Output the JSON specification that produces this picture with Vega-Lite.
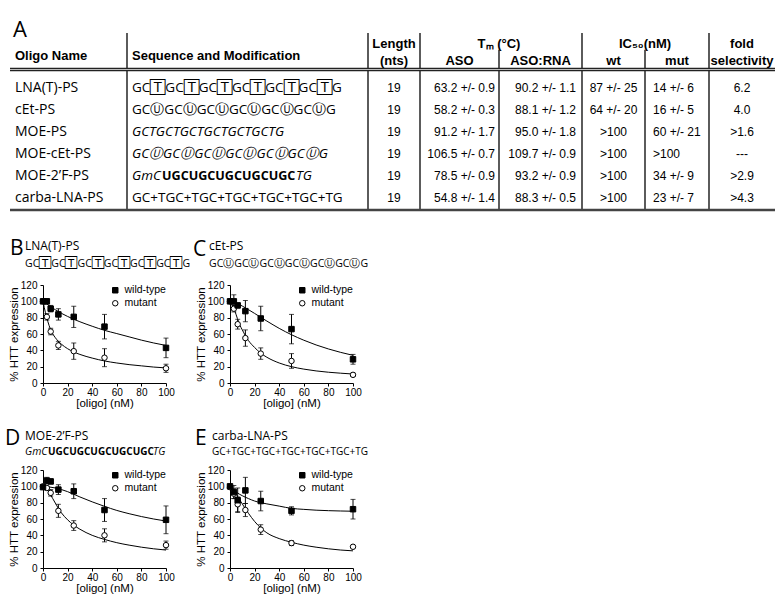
{
  "$schema": "https://vega.github.io/schema/vega-lite/v6.json",
  "background": "white",
  "padding": {"left": 5, "top": 0, "right": 0, "bottom": 0},
  "bounds": "flush",
  "spacing": 73,
  "resolve": {"scale": {"shape": "independent", "fill": "independent", "stroke": "independent"}},
  "datasets": {
    "panels": [{"panel": "A"}, {"panel": "B"}, {"panel": "C"}, {"panel": "D"}, {"panel": "E"}],
    "headers": [
      {"label": "Oligo Name", "col": 0, "lvl": -1.5},
      {"label": "Sequence and Modification", "col": 1, "lvl": -1.5},
      {"label": "Length", "col": 2.5, "lvl": -2},
      {"label": "(nts)", "col": 2.5, "lvl": -1},
      {"label": "Tₘ (°C)", "col": 4, "lvl": -2},
      {"label": "ASO", "col": 3.5, "lvl": -1},
      {"label": "ASO:RNA", "col": 4.5, "lvl": -1},
      {"label": "IC₅₀(nM)", "col": 6, "lvl": -2},
      {"label": "wt", "col": 5.5, "lvl": -1},
      {"label": "mut", "col": 6.5, "lvl": -1},
      {"label": "fold", "col": 7.5, "lvl": -2},
      {"label": "selectivity", "col": 7.5, "lvl": -1}
    ],
    "oligos": [
      {"row": 1, "oligo": "LNA(T)-PS", "seq": "GC🅃GC🅃GC🅃GC🅃GC🅃GC🅃G", "len": 19, "tm_aso": "63.2 +/- 0.9", "tm_rna": "90.2 +/- 1.1", "ic50_wt": "87 +/- 25", "ic50_mut": "14 +/- 6", "fold": "6.2"},
      {"row": 2, "oligo": "cEt-PS", "seq": "GCⓊGCⓊGCⓊGCⓊGCⓊGCⓊG", "len": 19, "tm_aso": "58.2 +/- 0.3", "tm_rna": "88.1 +/- 1.2", "ic50_wt": "64 +/- 20", "ic50_mut": "16 +/- 5", "fold": "4.0"},
      {"row": 3, "oligo": "MOE-PS", "seq": "GCTGCTGCTGCTGCTGCTG", "len": 19, "tm_aso": "91.2 +/- 1.7", "tm_rna": "95.0 +/- 1.8", "ic50_wt": ">100", "ic50_mut": "60 +/- 21", "fold": ">1.6"},
      {"row": 4, "oligo": "MOE-cEt-PS", "seq": "GCⓊGCⓊGCⓊGCⓊGCⓊGCⓊG", "len": 19, "tm_aso": "106.5 +/- 0.7", "tm_rna": "109.7 +/- 0.9", "ic50_wt": ">100", "ic50_mut": ">100", "fold": "---"},
      {"row": 5, "oligo": "MOE-2’F-PS", "seq": "GmCUGCUGCUGCUGCTG", "wing5": "GmC", "gap": "UGCUGCUGCUGCUGC", "wing3": "TG", "len": 19, "tm_aso": "78.5 +/- 0.9", "tm_rna": "93.2 +/- 0.9", "ic50_wt": ">100", "ic50_mut": "34 +/- 9", "fold": ">2.9"},
      {"row": 6, "oligo": "carba-LNA-PS", "seq": "GC+TGC+TGC+TGC+TGC+TGC+TG", "len": 19, "tm_aso": "54.8 +/- 1.4", "tm_rna": "88.3 +/- 0.5", "ic50_wt": ">100", "ic50_mut": "23 +/- 7", "fold": ">4.3"}
    ],
    "pts": [
      {"oligo": "LNA(T)-PS", "cond": "mutant", "conc": 0, "pct": 100, "sd": 2},
      {"oligo": "LNA(T)-PS", "cond": "mutant", "conc": 3.125, "pct": 81, "sd": 4},
      {"oligo": "LNA(T)-PS", "cond": "mutant", "conc": 6.25, "pct": 63, "sd": 4},
      {"oligo": "LNA(T)-PS", "cond": "mutant", "conc": 12.5, "pct": 46, "sd": 5},
      {"oligo": "LNA(T)-PS", "cond": "mutant", "conc": 25, "pct": 39, "sd": 10},
      {"oligo": "LNA(T)-PS", "cond": "mutant", "conc": 50, "pct": 31, "sd": 11},
      {"oligo": "LNA(T)-PS", "cond": "mutant", "conc": 100, "pct": 18, "sd": 5},
      {"oligo": "LNA(T)-PS", "cond": "wild-type", "conc": 0, "pct": 100, "sd": 2},
      {"oligo": "LNA(T)-PS", "cond": "wild-type", "conc": 3.125, "pct": 100, "sd": 3},
      {"oligo": "LNA(T)-PS", "cond": "wild-type", "conc": 6.25, "pct": 91, "sd": 4},
      {"oligo": "LNA(T)-PS", "cond": "wild-type", "conc": 12.5, "pct": 84, "sd": 7},
      {"oligo": "LNA(T)-PS", "cond": "wild-type", "conc": 25, "pct": 81, "sd": 13},
      {"oligo": "LNA(T)-PS", "cond": "wild-type", "conc": 50, "pct": 69, "sd": 15},
      {"oligo": "LNA(T)-PS", "cond": "wild-type", "conc": 100, "pct": 43, "sd": 12},
      {"oligo": "cEt-PS", "cond": "mutant", "conc": 0, "pct": 100, "sd": 2},
      {"oligo": "cEt-PS", "cond": "mutant", "conc": 3.125, "pct": 91, "sd": 4},
      {"oligo": "cEt-PS", "cond": "mutant", "conc": 6.25, "pct": 72, "sd": 6},
      {"oligo": "cEt-PS", "cond": "mutant", "conc": 12.5, "pct": 55, "sd": 10},
      {"oligo": "cEt-PS", "cond": "mutant", "conc": 25, "pct": 36, "sd": 7},
      {"oligo": "cEt-PS", "cond": "mutant", "conc": 50, "pct": 27, "sd": 9},
      {"oligo": "cEt-PS", "cond": "mutant", "conc": 100, "pct": 10, "sd": 2},
      {"oligo": "cEt-PS", "cond": "wild-type", "conc": 0, "pct": 100, "sd": 2},
      {"oligo": "cEt-PS", "cond": "wild-type", "conc": 3.125, "pct": 100, "sd": 8},
      {"oligo": "cEt-PS", "cond": "wild-type", "conc": 6.25, "pct": 95, "sd": 3},
      {"oligo": "cEt-PS", "cond": "wild-type", "conc": 12.5, "pct": 88, "sd": 13},
      {"oligo": "cEt-PS", "cond": "wild-type", "conc": 25, "pct": 79, "sd": 15},
      {"oligo": "cEt-PS", "cond": "wild-type", "conc": 50, "pct": 66, "sd": 18},
      {"oligo": "cEt-PS", "cond": "wild-type", "conc": 100, "pct": 29, "sd": 6},
      {"oligo": "MOE-2’F-PS", "cond": "mutant", "conc": 0, "pct": 100, "sd": 2},
      {"oligo": "MOE-2’F-PS", "cond": "mutant", "conc": 3.125, "pct": 98, "sd": 2},
      {"oligo": "MOE-2’F-PS", "cond": "mutant", "conc": 6.25, "pct": 92, "sd": 4},
      {"oligo": "MOE-2’F-PS", "cond": "mutant", "conc": 12.5, "pct": 70, "sd": 8},
      {"oligo": "MOE-2’F-PS", "cond": "mutant", "conc": 25, "pct": 52, "sd": 6},
      {"oligo": "MOE-2’F-PS", "cond": "mutant", "conc": 50, "pct": 40, "sd": 8},
      {"oligo": "MOE-2’F-PS", "cond": "mutant", "conc": 100, "pct": 28, "sd": 5},
      {"oligo": "MOE-2’F-PS", "cond": "wild-type", "conc": 0, "pct": 99, "sd": 2},
      {"oligo": "MOE-2’F-PS", "cond": "wild-type", "conc": 3.125, "pct": 107, "sd": 4},
      {"oligo": "MOE-2’F-PS", "cond": "wild-type", "conc": 6.25, "pct": 106, "sd": 3},
      {"oligo": "MOE-2’F-PS", "cond": "wild-type", "conc": 12.5, "pct": 96, "sd": 6},
      {"oligo": "MOE-2’F-PS", "cond": "wild-type", "conc": 25, "pct": 94, "sd": 9},
      {"oligo": "MOE-2’F-PS", "cond": "wild-type", "conc": 50, "pct": 71, "sd": 14},
      {"oligo": "MOE-2’F-PS", "cond": "wild-type", "conc": 100, "pct": 59, "sd": 17},
      {"oligo": "carba-LNA-PS", "cond": "mutant", "conc": 0, "pct": 99, "sd": 2},
      {"oligo": "carba-LNA-PS", "cond": "mutant", "conc": 3.125, "pct": 91, "sd": 6},
      {"oligo": "carba-LNA-PS", "cond": "mutant", "conc": 6.25, "pct": 78, "sd": 9},
      {"oligo": "carba-LNA-PS", "cond": "mutant", "conc": 12.5, "pct": 71, "sd": 8},
      {"oligo": "carba-LNA-PS", "cond": "mutant", "conc": 25, "pct": 47, "sd": 6},
      {"oligo": "carba-LNA-PS", "cond": "mutant", "conc": 50, "pct": 30.5, "sd": 3},
      {"oligo": "carba-LNA-PS", "cond": "mutant", "conc": 100, "pct": 26, "sd": 1},
      {"oligo": "carba-LNA-PS", "cond": "wild-type", "conc": 0, "pct": 100, "sd": 2},
      {"oligo": "carba-LNA-PS", "cond": "wild-type", "conc": 3.125, "pct": 93, "sd": 8},
      {"oligo": "carba-LNA-PS", "cond": "wild-type", "conc": 6.25, "pct": 83, "sd": 15},
      {"oligo": "carba-LNA-PS", "cond": "wild-type", "conc": 12.5, "pct": 95, "sd": 16},
      {"oligo": "carba-LNA-PS", "cond": "wild-type", "conc": 25, "pct": 82, "sd": 12},
      {"oligo": "carba-LNA-PS", "cond": "wild-type", "conc": 50, "pct": 70, "sd": 5},
      {"oligo": "carba-LNA-PS", "cond": "wild-type", "conc": 100, "pct": 72, "sd": 12}
    ],
    "fits": [
      {"oligo": "LNA(T)-PS", "cond": "wild-type", "conc": 0, "pct": 100},
      {"oligo": "LNA(T)-PS", "cond": "wild-type", "conc": 5, "pct": 94.6},
      {"oligo": "LNA(T)-PS", "cond": "wild-type", "conc": 10, "pct": 89.7},
      {"oligo": "LNA(T)-PS", "cond": "wild-type", "conc": 15, "pct": 85.3},
      {"oligo": "LNA(T)-PS", "cond": "wild-type", "conc": 20, "pct": 81.5},
      {"oligo": "LNA(T)-PS", "cond": "wild-type", "conc": 30, "pct": 75},
      {"oligo": "LNA(T)-PS", "cond": "wild-type", "conc": 40, "pct": 69.5},
      {"oligo": "LNA(T)-PS", "cond": "wild-type", "conc": 50, "pct": 64.5},
      {"oligo": "LNA(T)-PS", "cond": "wild-type", "conc": 60, "pct": 60.5},
      {"oligo": "LNA(T)-PS", "cond": "wild-type", "conc": 70, "pct": 56.5},
      {"oligo": "LNA(T)-PS", "cond": "wild-type", "conc": 80, "pct": 52.5},
      {"oligo": "LNA(T)-PS", "cond": "wild-type", "conc": 90, "pct": 49},
      {"oligo": "LNA(T)-PS", "cond": "wild-type", "conc": 100, "pct": 46},
      {"oligo": "LNA(T)-PS", "cond": "mutant", "conc": 0, "pct": 100},
      {"oligo": "LNA(T)-PS", "cond": "mutant", "conc": 2, "pct": 86},
      {"oligo": "LNA(T)-PS", "cond": "mutant", "conc": 4, "pct": 75},
      {"oligo": "LNA(T)-PS", "cond": "mutant", "conc": 6, "pct": 66},
      {"oligo": "LNA(T)-PS", "cond": "mutant", "conc": 8, "pct": 60},
      {"oligo": "LNA(T)-PS", "cond": "mutant", "conc": 10, "pct": 55.5},
      {"oligo": "LNA(T)-PS", "cond": "mutant", "conc": 12.5, "pct": 51},
      {"oligo": "LNA(T)-PS", "cond": "mutant", "conc": 15, "pct": 47.5},
      {"oligo": "LNA(T)-PS", "cond": "mutant", "conc": 20, "pct": 42},
      {"oligo": "LNA(T)-PS", "cond": "mutant", "conc": 25, "pct": 38},
      {"oligo": "LNA(T)-PS", "cond": "mutant", "conc": 30, "pct": 35},
      {"oligo": "LNA(T)-PS", "cond": "mutant", "conc": 40, "pct": 30.5},
      {"oligo": "LNA(T)-PS", "cond": "mutant", "conc": 50, "pct": 27},
      {"oligo": "LNA(T)-PS", "cond": "mutant", "conc": 60, "pct": 24.5},
      {"oligo": "LNA(T)-PS", "cond": "mutant", "conc": 70, "pct": 22.5},
      {"oligo": "LNA(T)-PS", "cond": "mutant", "conc": 80, "pct": 21},
      {"oligo": "LNA(T)-PS", "cond": "mutant", "conc": 90, "pct": 19.5},
      {"oligo": "LNA(T)-PS", "cond": "mutant", "conc": 100, "pct": 18.5},
      {"oligo": "cEt-PS", "cond": "wild-type", "conc": 0, "pct": 100},
      {"oligo": "cEt-PS", "cond": "wild-type", "conc": 5, "pct": 97.9},
      {"oligo": "cEt-PS", "cond": "wild-type", "conc": 10, "pct": 94.2},
      {"oligo": "cEt-PS", "cond": "wild-type", "conc": 15, "pct": 89.8},
      {"oligo": "cEt-PS", "cond": "wild-type", "conc": 20, "pct": 85.2},
      {"oligo": "cEt-PS", "cond": "wild-type", "conc": 25, "pct": 80.4},
      {"oligo": "cEt-PS", "cond": "wild-type", "conc": 30, "pct": 75.8},
      {"oligo": "cEt-PS", "cond": "wild-type", "conc": 40, "pct": 66.9},
      {"oligo": "cEt-PS", "cond": "wild-type", "conc": 50, "pct": 59.1},
      {"oligo": "cEt-PS", "cond": "wild-type", "conc": 60, "pct": 52.4},
      {"oligo": "cEt-PS", "cond": "wild-type", "conc": 70, "pct": 46.6},
      {"oligo": "cEt-PS", "cond": "wild-type", "conc": 80, "pct": 41.7},
      {"oligo": "cEt-PS", "cond": "wild-type", "conc": 90, "pct": 37.5},
      {"oligo": "cEt-PS", "cond": "wild-type", "conc": 100, "pct": 33.9},
      {"oligo": "cEt-PS", "cond": "mutant", "conc": 0, "pct": 100},
      {"oligo": "cEt-PS", "cond": "mutant", "conc": 2, "pct": 95},
      {"oligo": "cEt-PS", "cond": "mutant", "conc": 4, "pct": 88},
      {"oligo": "cEt-PS", "cond": "mutant", "conc": 6, "pct": 79},
      {"oligo": "cEt-PS", "cond": "mutant", "conc": 8, "pct": 71},
      {"oligo": "cEt-PS", "cond": "mutant", "conc": 10, "pct": 65},
      {"oligo": "cEt-PS", "cond": "mutant", "conc": 12.5, "pct": 58},
      {"oligo": "cEt-PS", "cond": "mutant", "conc": 15, "pct": 52},
      {"oligo": "cEt-PS", "cond": "mutant", "conc": 20, "pct": 43.5},
      {"oligo": "cEt-PS", "cond": "mutant", "conc": 25, "pct": 36.5},
      {"oligo": "cEt-PS", "cond": "mutant", "conc": 30, "pct": 31.5},
      {"oligo": "cEt-PS", "cond": "mutant", "conc": 40, "pct": 24.5},
      {"oligo": "cEt-PS", "cond": "mutant", "conc": 50, "pct": 20},
      {"oligo": "cEt-PS", "cond": "mutant", "conc": 60, "pct": 17},
      {"oligo": "cEt-PS", "cond": "mutant", "conc": 70, "pct": 14.8},
      {"oligo": "cEt-PS", "cond": "mutant", "conc": 80, "pct": 13.2},
      {"oligo": "cEt-PS", "cond": "mutant", "conc": 90, "pct": 12},
      {"oligo": "cEt-PS", "cond": "mutant", "conc": 100, "pct": 11},
      {"oligo": "MOE-2’F-PS", "cond": "wild-type", "conc": 0, "pct": 100},
      {"oligo": "MOE-2’F-PS", "cond": "wild-type", "conc": 10, "pct": 98},
      {"oligo": "MOE-2’F-PS", "cond": "wild-type", "conc": 20, "pct": 93.5},
      {"oligo": "MOE-2’F-PS", "cond": "wild-type", "conc": 30, "pct": 87},
      {"oligo": "MOE-2’F-PS", "cond": "wild-type", "conc": 40, "pct": 81},
      {"oligo": "MOE-2’F-PS", "cond": "wild-type", "conc": 50, "pct": 75.5},
      {"oligo": "MOE-2’F-PS", "cond": "wild-type", "conc": 60, "pct": 70.5},
      {"oligo": "MOE-2’F-PS", "cond": "wild-type", "conc": 70, "pct": 66.5},
      {"oligo": "MOE-2’F-PS", "cond": "wild-type", "conc": 80, "pct": 63},
      {"oligo": "MOE-2’F-PS", "cond": "wild-type", "conc": 90, "pct": 60},
      {"oligo": "MOE-2’F-PS", "cond": "wild-type", "conc": 100, "pct": 57.5},
      {"oligo": "MOE-2’F-PS", "cond": "mutant", "conc": 0, "pct": 100},
      {"oligo": "MOE-2’F-PS", "cond": "mutant", "conc": 3, "pct": 97},
      {"oligo": "MOE-2’F-PS", "cond": "mutant", "conc": 6, "pct": 90},
      {"oligo": "MOE-2’F-PS", "cond": "mutant", "conc": 10, "pct": 79.5},
      {"oligo": "MOE-2’F-PS", "cond": "mutant", "conc": 12.5, "pct": 73},
      {"oligo": "MOE-2’F-PS", "cond": "mutant", "conc": 15, "pct": 67.5},
      {"oligo": "MOE-2’F-PS", "cond": "mutant", "conc": 20, "pct": 59},
      {"oligo": "MOE-2’F-PS", "cond": "mutant", "conc": 25, "pct": 52.5},
      {"oligo": "MOE-2’F-PS", "cond": "mutant", "conc": 30, "pct": 47.5},
      {"oligo": "MOE-2’F-PS", "cond": "mutant", "conc": 40, "pct": 40},
      {"oligo": "MOE-2’F-PS", "cond": "mutant", "conc": 50, "pct": 35},
      {"oligo": "MOE-2’F-PS", "cond": "mutant", "conc": 60, "pct": 31},
      {"oligo": "MOE-2’F-PS", "cond": "mutant", "conc": 70, "pct": 28},
      {"oligo": "MOE-2’F-PS", "cond": "mutant", "conc": 80, "pct": 25.5},
      {"oligo": "MOE-2’F-PS", "cond": "mutant", "conc": 90, "pct": 23.5},
      {"oligo": "MOE-2’F-PS", "cond": "mutant", "conc": 100, "pct": 22},
      {"oligo": "carba-LNA-PS", "cond": "wild-type", "conc": 0, "pct": 100},
      {"oligo": "carba-LNA-PS", "cond": "wild-type", "conc": 5, "pct": 93},
      {"oligo": "carba-LNA-PS", "cond": "wild-type", "conc": 10, "pct": 88.5},
      {"oligo": "carba-LNA-PS", "cond": "wild-type", "conc": 15, "pct": 85},
      {"oligo": "carba-LNA-PS", "cond": "wild-type", "conc": 20, "pct": 82},
      {"oligo": "carba-LNA-PS", "cond": "wild-type", "conc": 25, "pct": 80},
      {"oligo": "carba-LNA-PS", "cond": "wild-type", "conc": 30, "pct": 78.5},
      {"oligo": "carba-LNA-PS", "cond": "wild-type", "conc": 40, "pct": 75.8},
      {"oligo": "carba-LNA-PS", "cond": "wild-type", "conc": 50, "pct": 73},
      {"oligo": "carba-LNA-PS", "cond": "wild-type", "conc": 60, "pct": 71.8},
      {"oligo": "carba-LNA-PS", "cond": "wild-type", "conc": 70, "pct": 70.8},
      {"oligo": "carba-LNA-PS", "cond": "wild-type", "conc": 80, "pct": 70.2},
      {"oligo": "carba-LNA-PS", "cond": "wild-type", "conc": 90, "pct": 69.8},
      {"oligo": "carba-LNA-PS", "cond": "wild-type", "conc": 100, "pct": 69.5},
      {"oligo": "carba-LNA-PS", "cond": "mutant", "conc": 0, "pct": 100},
      {"oligo": "carba-LNA-PS", "cond": "mutant", "conc": 3, "pct": 96},
      {"oligo": "carba-LNA-PS", "cond": "mutant", "conc": 6, "pct": 88},
      {"oligo": "carba-LNA-PS", "cond": "mutant", "conc": 10, "pct": 78.5},
      {"oligo": "carba-LNA-PS", "cond": "mutant", "conc": 12.5, "pct": 72.5},
      {"oligo": "carba-LNA-PS", "cond": "mutant", "conc": 15, "pct": 67},
      {"oligo": "carba-LNA-PS", "cond": "mutant", "conc": 20, "pct": 57},
      {"oligo": "carba-LNA-PS", "cond": "mutant", "conc": 25, "pct": 49},
      {"oligo": "carba-LNA-PS", "cond": "mutant", "conc": 30, "pct": 43},
      {"oligo": "carba-LNA-PS", "cond": "mutant", "conc": 40, "pct": 36},
      {"oligo": "carba-LNA-PS", "cond": "mutant", "conc": 50, "pct": 31.5},
      {"oligo": "carba-LNA-PS", "cond": "mutant", "conc": 60, "pct": 28},
      {"oligo": "carba-LNA-PS", "cond": "mutant", "conc": 70, "pct": 25.5},
      {"oligo": "carba-LNA-PS", "cond": "mutant", "conc": 80, "pct": 23.5},
      {"oligo": "carba-LNA-PS", "cond": "mutant", "conc": 90, "pct": 22},
      {"oligo": "carba-LNA-PS", "cond": "mutant", "conc": 100, "pct": 21}
    ]
  },
  "vconcat": [
    {
      "width": 732,
      "height": 212,
      "layer": [
        {"data": {"name": "panels"}, "transform": [{"filter": "datum.panel === 'A'"}],
         "mark": {"type": "text", "align": "left", "baseline": "middle", "dx": 3, "dy": 5, "fontSize": 22, "font": "Open Sans", "color": "black"},
         "encoding": {
           "x": {"datum": 0, "type": "quantitative", "scale": {"domain": [0,1,2,3,4,5,6,7,8], "range": [-33,84,325,377,456,539,602,666,732], "zero": false, "nice": false}, "axis": null},
           "y": {"datum": -4, "type": "quantitative", "scale": {"domain": [-4,-3,-2,-1.5,-1,0,1,6,7], "range": [25,33,44,55.5,61,69.5,88,198,210], "zero": false, "nice": false}, "axis": null},
           "text": {"field": "panel", "type": "nominal"}}},
        {"data": {"values": [{"b": 1}, {"b": 2}, {"b": 3}, {"b": 5}, {"b": 7}]},
         "mark": {"type": "rule", "color": "#333", "strokeWidth": 1.6},
         "encoding": {
           "x": {"field": "b", "type": "quantitative", "scale": {"domain": [0,1,2,3,4,5,6,7,8], "range": [-33,84,325,377,456,539,602,666,732], "zero": false, "nice": false}, "axis": null},
           "y": {"datum": -3, "type": "quantitative", "scale": {"domain": [-4,-3,-2,-1.5,-1,0,1,6,7], "range": [25,33,44,55.5,61,69.5,88,198,210], "zero": false, "nice": false}, "axis": null},
           "y2": {"datum": 7}}},
        {"data": {"values": [{"b": 4}, {"b": 6}]},
         "mark": {"type": "rule", "color": "#333", "strokeWidth": 1.6},
         "encoding": {
           "x": {"field": "b", "type": "quantitative", "scale": {"domain": [0,1,2,3,4,5,6,7,8], "range": [-33,84,325,377,456,539,602,666,732], "zero": false, "nice": false}, "axis": null},
           "y": {"datum": -1.75, "type": "quantitative", "scale": {"domain": [-4,-3,-2,-1.5,-1,0,1,6,7], "range": [25,33,44,55.5,61,69.5,88,198,210], "zero": false, "nice": false}, "axis": null},
           "y2": {"datum": 7}}},
        {"data": {"values": [{"edge": "header"}]},
         "mark": {"type": "rule", "color": "#222", "strokeWidth": 3.6},
         "encoding": {
           "x": {"datum": 0, "type": "quantitative", "scale": {"domain": [0,1,2,3,4,5,6,7,8], "range": [-33,84,325,377,456,539,602,666,732], "zero": false, "nice": false}, "axis": null},
           "x2": {"datum": 8},
           "y": {"datum": 0, "type": "quantitative", "scale": {"domain": [-4,-3,-2,-1.5,-1,0,1,6,7], "range": [25,33,44,55.5,61,69.5,88,198,210], "zero": false, "nice": false}, "axis": null}}},
        {"data": {"values": [{"edge": "header"}]},
         "mark": {"type": "rule", "color": "#bbb", "strokeWidth": 1.2},
         "encoding": {
           "x": {"datum": 0, "type": "quantitative", "scale": {"domain": [0,1,2,3,4,5,6,7,8], "range": [-33,84,325,377,456,539,602,666,732], "zero": false, "nice": false}, "axis": null},
           "x2": {"datum": 8},
           "y": {"datum": 0, "type": "quantitative", "scale": {"domain": [-4,-3,-2,-1.5,-1,0,1,6,7], "range": [25,33,44,55.5,61,69.5,88,198,210], "zero": false, "nice": false}, "axis": null}}},
        {"data": {"values": [{"edge": "bottom"}]},
         "mark": {"type": "rule", "color": "#444", "strokeWidth": 2.4},
         "encoding": {
           "x": {"datum": 0, "type": "quantitative", "scale": {"domain": [0,1,2,3,4,5,6,7,8], "range": [-33,84,325,377,456,539,602,666,732], "zero": false, "nice": false}, "axis": null},
           "x2": {"datum": 8},
           "y": {"datum": 7, "type": "quantitative", "scale": {"domain": [-4,-3,-2,-1.5,-1,0,1,6,7], "range": [25,33,44,55.5,61,69.5,88,198,210], "zero": false, "nice": false}, "axis": null}}},
        {"data": {"name": "headers"}, "transform": [{"filter": "datum.col < 2"}],
         "mark": {"type": "text", "align": "left", "baseline": "middle", "dx": 5, "fontSize": 13, "fontWeight": "bold", "font": "Liberation Sans", "color": "black"},
         "encoding": {
           "x": {"field": "col", "type": "quantitative", "scale": {"domain": [0,1,2,3,4,5,6,7,8], "range": [-33,84,325,377,456,539,602,666,732], "zero": false, "nice": false}, "axis": null},
           "y": {"field": "lvl", "type": "quantitative", "scale": {"domain": [-4,-3,-2,-1.5,-1,0,1,6,7], "range": [25,33,44,55.5,61,69.5,88,198,210], "zero": false, "nice": false}, "axis": null},
           "text": {"field": "label", "type": "nominal"}}},
        {"data": {"name": "headers"}, "transform": [{"filter": "datum.col >= 2"}],
         "mark": {"type": "text", "align": "center", "baseline": "middle", "fontSize": 13, "fontWeight": "bold", "font": "Liberation Sans", "color": "black"},
         "encoding": {
           "x": {"field": "col", "type": "quantitative", "scale": {"domain": [0,1,2,3,4,5,6,7,8], "range": [-33,84,325,377,456,539,602,666,732], "zero": false, "nice": false}, "axis": null},
           "y": {"field": "lvl", "type": "quantitative", "scale": {"domain": [-4,-3,-2,-1.5,-1,0,1,6,7], "range": [25,33,44,55.5,61,69.5,88,198,210], "zero": false, "nice": false}, "axis": null},
           "text": {"field": "label", "type": "nominal"}}},
        {"data": {"name": "oligos"},
         "mark": {"type": "text", "align": "left", "baseline": "middle", "dx": 5, "fontSize": 14, "font": "Open Sans", "color": "black"},
         "encoding": {
           "x": {"datum": 0, "type": "quantitative", "scale": {"domain": [0,1,2,3,4,5,6,7,8], "range": [-33,84,325,377,456,539,602,666,732], "zero": false, "nice": false}, "axis": null},
           "y": {"field": "row", "type": "quantitative", "scale": {"domain": [-4,-3,-2,-1.5,-1,0,1,6,7], "range": [25,33,44,55.5,61,69.5,88,198,210], "zero": false, "nice": false}, "axis": null},
           "text": {"field": "oligo", "type": "nominal"}}},
        {"data": {"name": "oligos"}, "transform": [{"filter": "datum.row === 1 || datum.row === 2 || datum.row === 6"}],
         "mark": {"type": "text", "align": "left", "baseline": "middle", "dx": 5, "fontSize": 13.5, "font": "Open Sans", "color": "black"},
         "encoding": {
           "x": {"datum": 1, "type": "quantitative", "scale": {"domain": [0,1,2,3,4,5,6,7,8], "range": [-33,84,325,377,456,539,602,666,732], "zero": false, "nice": false}, "axis": null},
           "y": {"field": "row", "type": "quantitative", "scale": {"domain": [-4,-3,-2,-1.5,-1,0,1,6,7], "range": [25,33,44,55.5,61,69.5,88,198,210], "zero": false, "nice": false}, "axis": null},
           "text": {"field": "seq", "type": "nominal"}}},
        {"data": {"name": "oligos"}, "transform": [{"filter": "datum.row === 3 || datum.row === 4"}],
         "mark": {"type": "text", "align": "left", "baseline": "middle", "dx": 5, "fontSize": 13.5, "fontStyle": "italic", "font": "Open Sans", "color": "black"},
         "encoding": {
           "x": {"datum": 1, "type": "quantitative", "scale": {"domain": [0,1,2,3,4,5,6,7,8], "range": [-33,84,325,377,456,539,602,666,732], "zero": false, "nice": false}, "axis": null},
           "y": {"field": "row", "type": "quantitative", "scale": {"domain": [-4,-3,-2,-1.5,-1,0,1,6,7], "range": [25,33,44,55.5,61,69.5,88,198,210], "zero": false, "nice": false}, "axis": null},
           "text": {"field": "seq", "type": "nominal"}}},
        {"data": {"name": "oligos"}, "transform": [{"filter": "datum.row === 5"}],
         "mark": {"type": "text", "align": "left", "baseline": "middle", "dx": 5, "fontSize": 13.5, "fontStyle": "italic", "font": "Open Sans", "color": "black"},
         "encoding": {
           "x": {"datum": 1, "type": "quantitative", "scale": {"domain": [0,1,2,3,4,5,6,7,8], "range": [-33,84,325,377,456,539,602,666,732], "zero": false, "nice": false}, "axis": null},
           "y": {"field": "row", "type": "quantitative", "scale": {"domain": [-4,-3,-2,-1.5,-1,0,1,6,7], "range": [25,33,44,55.5,61,69.5,88,198,210], "zero": false, "nice": false}, "axis": null},
           "text": {"field": "wing5", "type": "nominal"}}},
        {"data": {"name": "oligos"}, "transform": [{"filter": "datum.row === 5"}],
         "mark": {"type": "text", "align": "left", "baseline": "middle", "dx": 35, "fontSize": 12.6, "fontWeight": "bold", "font": "Open Sans", "color": "black"},
         "encoding": {
           "x": {"datum": 1, "type": "quantitative", "scale": {"domain": [0,1,2,3,4,5,6,7,8], "range": [-33,84,325,377,456,539,602,666,732], "zero": false, "nice": false}, "axis": null},
           "y": {"field": "row", "type": "quantitative", "scale": {"domain": [-4,-3,-2,-1.5,-1,0,1,6,7], "range": [25,33,44,55.5,61,69.5,88,198,210], "zero": false, "nice": false}, "axis": null},
           "text": {"field": "gap", "type": "nominal"}}},
        {"data": {"name": "oligos"}, "transform": [{"filter": "datum.row === 5"}],
         "mark": {"type": "text", "align": "left", "baseline": "middle", "dx": 169, "fontSize": 13.5, "fontStyle": "italic", "font": "Open Sans", "color": "black"},
         "encoding": {
           "x": {"datum": 1, "type": "quantitative", "scale": {"domain": [0,1,2,3,4,5,6,7,8], "range": [-33,84,325,377,456,539,602,666,732], "zero": false, "nice": false}, "axis": null},
           "y": {"field": "row", "type": "quantitative", "scale": {"domain": [-4,-3,-2,-1.5,-1,0,1,6,7], "range": [25,33,44,55.5,61,69.5,88,198,210], "zero": false, "nice": false}, "axis": null},
           "text": {"field": "wing3", "type": "nominal"}}},
        {"data": {"name": "oligos"},
         "mark": {"type": "text", "align": "center", "baseline": "middle", "fontSize": 12, "font": "Liberation Sans", "color": "black"},
         "encoding": {
           "x": {"datum": 2.5, "type": "quantitative", "scale": {"domain": [0,1,2,3,4,5,6,7,8], "range": [-33,84,325,377,456,539,602,666,732], "zero": false, "nice": false}, "axis": null},
           "y": {"field": "row", "type": "quantitative", "scale": {"domain": [-4,-3,-2,-1.5,-1,0,1,6,7], "range": [25,33,44,55.5,61,69.5,88,198,210], "zero": false, "nice": false}, "axis": null},
           "text": {"field": "len", "type": "nominal"}}},
        {"data": {"name": "oligos"},
         "mark": {"type": "text", "align": "right", "baseline": "middle", "dx": -4, "fontSize": 12, "font": "Liberation Sans", "color": "black"},
         "encoding": {
           "x": {"datum": 4, "type": "quantitative", "scale": {"domain": [0,1,2,3,4,5,6,7,8], "range": [-33,84,325,377,456,539,602,666,732], "zero": false, "nice": false}, "axis": null},
           "y": {"field": "row", "type": "quantitative", "scale": {"domain": [-4,-3,-2,-1.5,-1,0,1,6,7], "range": [25,33,44,55.5,61,69.5,88,198,210], "zero": false, "nice": false}, "axis": null},
           "text": {"field": "tm_aso", "type": "nominal"}}},
        {"data": {"name": "oligos"},
         "mark": {"type": "text", "align": "right", "baseline": "middle", "dx": -6, "fontSize": 12, "font": "Liberation Sans", "color": "black"},
         "encoding": {
           "x": {"datum": 5, "type": "quantitative", "scale": {"domain": [0,1,2,3,4,5,6,7,8], "range": [-33,84,325,377,456,539,602,666,732], "zero": false, "nice": false}, "axis": null},
           "y": {"field": "row", "type": "quantitative", "scale": {"domain": [-4,-3,-2,-1.5,-1,0,1,6,7], "range": [25,33,44,55.5,61,69.5,88,198,210], "zero": false, "nice": false}, "axis": null},
           "text": {"field": "tm_rna", "type": "nominal"}}},
        {"data": {"name": "oligos"},
         "mark": {"type": "text", "align": "center", "baseline": "middle", "fontSize": 12, "font": "Liberation Sans", "color": "black"},
         "encoding": {
           "x": {"datum": 5.5, "type": "quantitative", "scale": {"domain": [0,1,2,3,4,5,6,7,8], "range": [-33,84,325,377,456,539,602,666,732], "zero": false, "nice": false}, "axis": null},
           "y": {"field": "row", "type": "quantitative", "scale": {"domain": [-4,-3,-2,-1.5,-1,0,1,6,7], "range": [25,33,44,55.5,61,69.5,88,198,210], "zero": false, "nice": false}, "axis": null},
           "text": {"field": "ic50_wt", "type": "nominal"}}},
        {"data": {"name": "oligos"},
         "mark": {"type": "text", "align": "left", "baseline": "middle", "dx": 8, "fontSize": 12, "font": "Liberation Sans", "color": "black"},
         "encoding": {
           "x": {"datum": 6, "type": "quantitative", "scale": {"domain": [0,1,2,3,4,5,6,7,8], "range": [-33,84,325,377,456,539,602,666,732], "zero": false, "nice": false}, "axis": null},
           "y": {"field": "row", "type": "quantitative", "scale": {"domain": [-4,-3,-2,-1.5,-1,0,1,6,7], "range": [25,33,44,55.5,61,69.5,88,198,210], "zero": false, "nice": false}, "axis": null},
           "text": {"field": "ic50_mut", "type": "nominal"}}},
        {"data": {"name": "oligos"},
         "mark": {"type": "text", "align": "center", "baseline": "middle", "fontSize": 12, "font": "Liberation Sans", "color": "black"},
         "encoding": {
           "x": {"datum": 7.5, "type": "quantitative", "scale": {"domain": [0,1,2,3,4,5,6,7,8], "range": [-33,84,325,377,456,539,602,666,732], "zero": false, "nice": false}, "axis": null},
           "y": {"field": "row", "type": "quantitative", "scale": {"domain": [-4,-3,-2,-1.5,-1,0,1,6,7], "range": [25,33,44,55.5,61,69.5,88,198,210], "zero": false, "nice": false}, "axis": null},
           "text": {"field": "fold", "type": "nominal"}}}
      ]
    },
    {
      "bounds": "flush",
      "spacing": 185,
      "resolve": {"scale": {"shape": "independent", "fill": "independent", "stroke": "independent"}},
      "vconcat": [
        {
          "bounds": "flush",
          "spacing": 64,
          "resolve": {"scale": {"shape": "independent", "fill": "independent", "stroke": "independent"}},
          "hconcat": [
            {
              "width": 123, "height": 98,
              "encoding": {
                "x": {"type": "quantitative", "title": "[oligo] (nM)", "scale": {"domain": [0, 100], "nice": false}, "axis": {"values": [0, 20, 40, 60, 80, 100], "labelFlush": false, "labelPadding": 1, "titlePadding": 0}},
                "y": {"type": "quantitative", "title": "% HTT expression", "scale": {"domain": [0, 120], "nice": false}, "axis": {"values": [0, 20, 40, 60, 80, 100, 120], "labelPadding": 3, "titlePadding": 1}}
              },
              "layer": [
                {"data": {"name": "fits"}, "transform": [{"filter": "datum.oligo === 'LNA(T)-PS'"}], "mark": {"type": "line", "interpolate": "monotone", "color": "black", "strokeWidth": 1}, "encoding": {"x": {"field": "conc"}, "y": {"field": "pct"}, "detail": {"field": "cond", "type": "nominal"}}},
                {"data": {"name": "pts"}, "transform": [{"filter": "datum.oligo === 'LNA(T)-PS'"}], "mark": {"type": "errorbar", "ticks": {"size": 5}, "color": "black", "thickness": 1}, "encoding": {"x": {"field": "conc"}, "y": {"field": "pct"}, "yError": {"field": "sd"}}},
                {"data": {"name": "pts"}, "transform": [{"filter": "datum.oligo === 'LNA(T)-PS'"}], "mark": {"type": "point", "filled": true, "strokeWidth": 1, "size": 30, "opacity": 1},
                 "encoding": {
                   "x": {"field": "conc"}, "y": {"field": "pct"},
                   "shape": {"field": "cond", "type": "nominal", "scale": {"domain": ["wild-type", "mutant"], "range": ["square", "circle"]}, "legend": {"title": null, "orient": "top-right", "offset": 0}},
                   "fill": {"field": "cond", "type": "nominal", "scale": {"domain": ["wild-type", "mutant"], "range": ["black", "white"]}, "legend": {"title": null, "orient": "top-right", "offset": 0}},
                   "stroke": {"field": "cond", "type": "nominal", "scale": {"domain": ["wild-type", "mutant"], "range": ["black", "black"]}, "legend": {"title": null, "orient": "top-right", "offset": 0}}}},
                {"data": {"name": "panels"}, "transform": [{"filter": "datum.panel === 'B'"}], "mark": {"type": "text", "align": "left", "baseline": "middle", "dx": -33, "dy": -36, "fontSize": 21, "font": "Open Sans", "color": "black"}, "encoding": {"x": {"datum": 0}, "y": {"datum": 120}, "text": {"field": "panel", "type": "nominal"}}},
                {"data": {"name": "oligos"}, "transform": [{"filter": "datum.row === 1"}], "mark": {"type": "text", "align": "left", "baseline": "middle", "dx": -18, "dy": -39, "fontSize": 12, "font": "Open Sans", "color": "black"}, "encoding": {"x": {"datum": 0}, "y": {"datum": 120}, "text": {"field": "oligo", "type": "nominal"}}},
                {"data": {"name": "oligos"}, "transform": [{"filter": "datum.row === 1"}], "mark": {"type": "text", "align": "left", "baseline": "middle", "dx": -18, "dy": -21, "fontSize": 10.5, "font": "Open Sans", "color": "black"}, "encoding": {"x": {"datum": 0}, "y": {"datum": 120}, "text": {"field": "seq", "type": "nominal"}}}
              ]
            },
            {
              "width": 123, "height": 98,
              "encoding": {
                "x": {"type": "quantitative", "title": "[oligo] (nM)", "scale": {"domain": [0, 100], "nice": false}, "axis": {"values": [0, 20, 40, 60, 80, 100], "labelFlush": false, "labelPadding": 1, "titlePadding": 0}},
                "y": {"type": "quantitative", "title": "% HTT expression", "scale": {"domain": [0, 120], "nice": false}, "axis": {"values": [0, 20, 40, 60, 80, 100, 120], "labelPadding": 3, "titlePadding": 1}}
              },
              "layer": [
                {"data": {"name": "fits"}, "transform": [{"filter": "datum.oligo === 'cEt-PS'"}], "mark": {"type": "line", "interpolate": "monotone", "color": "black", "strokeWidth": 1}, "encoding": {"x": {"field": "conc"}, "y": {"field": "pct"}, "detail": {"field": "cond", "type": "nominal"}}},
                {"data": {"name": "pts"}, "transform": [{"filter": "datum.oligo === 'cEt-PS'"}], "mark": {"type": "errorbar", "ticks": {"size": 5}, "color": "black", "thickness": 1}, "encoding": {"x": {"field": "conc"}, "y": {"field": "pct"}, "yError": {"field": "sd"}}},
                {"data": {"name": "pts"}, "transform": [{"filter": "datum.oligo === 'cEt-PS'"}], "mark": {"type": "point", "filled": true, "strokeWidth": 1, "size": 30, "opacity": 1},
                 "encoding": {
                   "x": {"field": "conc"}, "y": {"field": "pct"},
                   "shape": {"field": "cond", "type": "nominal", "scale": {"domain": ["wild-type", "mutant"], "range": ["square", "circle"]}, "legend": {"title": null, "orient": "top-right", "offset": 0}},
                   "fill": {"field": "cond", "type": "nominal", "scale": {"domain": ["wild-type", "mutant"], "range": ["black", "white"]}, "legend": {"title": null, "orient": "top-right", "offset": 0}},
                   "stroke": {"field": "cond", "type": "nominal", "scale": {"domain": ["wild-type", "mutant"], "range": ["black", "black"]}, "legend": {"title": null, "orient": "top-right", "offset": 0}}}},
                {"data": {"name": "panels"}, "transform": [{"filter": "datum.panel === 'C'"}], "mark": {"type": "text", "align": "left", "baseline": "middle", "dx": -37, "dy": -35, "fontSize": 21, "font": "Open Sans", "color": "black"}, "encoding": {"x": {"datum": 0}, "y": {"datum": 120}, "text": {"field": "panel", "type": "nominal"}}},
                {"data": {"name": "oligos"}, "transform": [{"filter": "datum.row === 2"}], "mark": {"type": "text", "align": "left", "baseline": "middle", "dx": -21, "dy": -39, "fontSize": 12, "font": "Open Sans", "color": "black"}, "encoding": {"x": {"datum": 0}, "y": {"datum": 120}, "text": {"field": "oligo", "type": "nominal"}}},
                {"data": {"name": "oligos"}, "transform": [{"filter": "datum.row === 2"}], "mark": {"type": "text", "align": "left", "baseline": "middle", "dx": -21, "dy": -21, "fontSize": 10.5, "font": "Open Sans", "color": "black"}, "encoding": {"x": {"datum": 0}, "y": {"datum": 120}, "text": {"field": "seq", "type": "nominal"}}}
              ]
            }
          ]
        },
        {
          "bounds": "flush",
          "spacing": 64,
          "resolve": {"scale": {"shape": "independent", "fill": "independent", "stroke": "independent"}},
          "hconcat": [
            {
              "width": 123, "height": 98,
              "encoding": {
                "x": {"type": "quantitative", "title": "[oligo] (nM)", "scale": {"domain": [0, 100], "nice": false}, "axis": {"values": [0, 20, 40, 60, 80, 100], "labelFlush": false, "labelPadding": 1, "titlePadding": 0}},
                "y": {"type": "quantitative", "title": "% HTT expression", "scale": {"domain": [0, 120], "nice": false}, "axis": {"values": [0, 20, 40, 60, 80, 100, 120], "labelPadding": 3, "titlePadding": 1}}
              },
              "layer": [
                {"data": {"name": "fits"}, "transform": [{"filter": "datum.oligo === 'MOE-2’F-PS'"}], "mark": {"type": "line", "interpolate": "monotone", "color": "black", "strokeWidth": 1}, "encoding": {"x": {"field": "conc"}, "y": {"field": "pct"}, "detail": {"field": "cond", "type": "nominal"}}},
                {"data": {"name": "pts"}, "transform": [{"filter": "datum.oligo === 'MOE-2’F-PS'"}], "mark": {"type": "errorbar", "ticks": {"size": 5}, "color": "black", "thickness": 1}, "encoding": {"x": {"field": "conc"}, "y": {"field": "pct"}, "yError": {"field": "sd"}}},
                {"data": {"name": "pts"}, "transform": [{"filter": "datum.oligo === 'MOE-2’F-PS'"}], "mark": {"type": "point", "filled": true, "strokeWidth": 1, "size": 30, "opacity": 1},
                 "encoding": {
                   "x": {"field": "conc"}, "y": {"field": "pct"},
                   "shape": {"field": "cond", "type": "nominal", "scale": {"domain": ["wild-type", "mutant"], "range": ["square", "circle"]}, "legend": {"title": null, "orient": "top-right", "offset": 0}},
                   "fill": {"field": "cond", "type": "nominal", "scale": {"domain": ["wild-type", "mutant"], "range": ["black", "white"]}, "legend": {"title": null, "orient": "top-right", "offset": 0}},
                   "stroke": {"field": "cond", "type": "nominal", "scale": {"domain": ["wild-type", "mutant"], "range": ["black", "black"]}, "legend": {"title": null, "orient": "top-right", "offset": 0}}}},
                {"data": {"name": "panels"}, "transform": [{"filter": "datum.panel === 'D'"}], "mark": {"type": "text", "align": "left", "baseline": "middle", "dx": -38, "dy": -31, "fontSize": 21, "font": "Open Sans", "color": "black"}, "encoding": {"x": {"datum": 0}, "y": {"datum": 120}, "text": {"field": "panel", "type": "nominal"}}},
                {"data": {"name": "oligos"}, "transform": [{"filter": "datum.row === 5"}], "mark": {"type": "text", "align": "left", "baseline": "middle", "dx": -18, "dy": -34, "fontSize": 12, "font": "Open Sans", "color": "black"}, "encoding": {"x": {"datum": 0}, "y": {"datum": 120}, "text": {"field": "oligo", "type": "nominal"}}},
                {"data": {"name": "oligos"}, "transform": [{"filter": "datum.row === 5"}], "mark": {"type": "text", "align": "left", "baseline": "middle", "dx": -18, "dy": -18, "fontSize": 10.5, "fontStyle": "italic", "font": "Open Sans", "color": "black"}, "encoding": {"x": {"datum": 0}, "y": {"datum": 120}, "text": {"field": "wing5", "type": "nominal"}}},
                {"data": {"name": "oligos"}, "transform": [{"filter": "datum.row === 5"}], "mark": {"type": "text", "align": "left", "baseline": "middle", "dx": 5, "dy": -18, "fontSize": 10, "fontWeight": "bold", "font": "Open Sans", "color": "black"}, "encoding": {"x": {"datum": 0}, "y": {"datum": 120}, "text": {"field": "gap", "type": "nominal"}}},
                {"data": {"name": "oligos"}, "transform": [{"filter": "datum.row === 5"}], "mark": {"type": "text", "align": "left", "baseline": "middle", "dx": 110, "dy": -18, "fontSize": 10.5, "fontStyle": "italic", "font": "Open Sans", "color": "black"}, "encoding": {"x": {"datum": 0}, "y": {"datum": 120}, "text": {"field": "wing3", "type": "nominal"}}}
              ]
            },
            {
              "width": 123, "height": 98,
              "encoding": {
                "x": {"type": "quantitative", "title": "[oligo] (nM)", "scale": {"domain": [0, 100], "nice": false}, "axis": {"values": [0, 20, 40, 60, 80, 100], "labelFlush": false, "labelPadding": 1, "titlePadding": 0}},
                "y": {"type": "quantitative", "title": "% HTT expression", "scale": {"domain": [0, 120], "nice": false}, "axis": {"values": [0, 20, 40, 60, 80, 100, 120], "labelPadding": 3, "titlePadding": 1}}
              },
              "layer": [
                {"data": {"name": "fits"}, "transform": [{"filter": "datum.oligo === 'carba-LNA-PS'"}], "mark": {"type": "line", "interpolate": "monotone", "color": "black", "strokeWidth": 1}, "encoding": {"x": {"field": "conc"}, "y": {"field": "pct"}, "detail": {"field": "cond", "type": "nominal"}}},
                {"data": {"name": "pts"}, "transform": [{"filter": "datum.oligo === 'carba-LNA-PS'"}], "mark": {"type": "errorbar", "ticks": {"size": 5}, "color": "black", "thickness": 1}, "encoding": {"x": {"field": "conc"}, "y": {"field": "pct"}, "yError": {"field": "sd"}}},
                {"data": {"name": "pts"}, "transform": [{"filter": "datum.oligo === 'carba-LNA-PS'"}], "mark": {"type": "point", "filled": true, "strokeWidth": 1, "size": 30, "opacity": 1},
                 "encoding": {
                   "x": {"field": "conc"}, "y": {"field": "pct"},
                   "shape": {"field": "cond", "type": "nominal", "scale": {"domain": ["wild-type", "mutant"], "range": ["square", "circle"]}, "legend": {"title": null, "orient": "top-right", "offset": 0}},
                   "fill": {"field": "cond", "type": "nominal", "scale": {"domain": ["wild-type", "mutant"], "range": ["black", "white"]}, "legend": {"title": null, "orient": "top-right", "offset": 0}},
                   "stroke": {"field": "cond", "type": "nominal", "scale": {"domain": ["wild-type", "mutant"], "range": ["black", "black"]}, "legend": {"title": null, "orient": "top-right", "offset": 0}}}},
                {"data": {"name": "panels"}, "transform": [{"filter": "datum.panel === 'E'"}], "mark": {"type": "text", "align": "left", "baseline": "middle", "dx": -35, "dy": -31, "fontSize": 21, "font": "Open Sans", "color": "black"}, "encoding": {"x": {"datum": 0}, "y": {"datum": 120}, "text": {"field": "panel", "type": "nominal"}}},
                {"data": {"name": "oligos"}, "transform": [{"filter": "datum.row === 6"}], "mark": {"type": "text", "align": "left", "baseline": "middle", "dx": -18, "dy": -34, "fontSize": 12, "font": "Open Sans", "color": "black"}, "encoding": {"x": {"datum": 0}, "y": {"datum": 120}, "text": {"field": "oligo", "type": "nominal"}}},
                {"data": {"name": "oligos"}, "transform": [{"filter": "datum.row === 6"}], "mark": {"type": "text", "align": "left", "baseline": "middle", "dx": -18, "dy": -18, "fontSize": 10, "font": "Open Sans", "color": "black"}, "encoding": {"x": {"datum": 0}, "y": {"datum": 120}, "text": {"field": "seq", "type": "nominal"}}}
              ]
            }
          ]
        }
      ]
    }
  ],
  "config": {
    "font": "Liberation Sans",
    "view": {"stroke": null},
    "axis": {"grid": false, "domainColor": "black", "tickColor": "black", "labelColor": "black", "titleColor": "black", "labelFont": "Liberation Sans", "titleFont": "Liberation Sans", "labelFontSize": 10, "titleFontSize": 11.5, "titleFontWeight": "normal", "tickSize": 3, "domainWidth": 1, "tickWidth": 1, "labelOverlap": false},
    "legend": {"labelFont": "Liberation Sans", "labelFontSize": 10.5, "labelColor": "black", "symbolSize": 30, "rowPadding": 2, "labelOffset": 4, "padding": 0, "symbolStrokeWidth": 1}
  }
}
